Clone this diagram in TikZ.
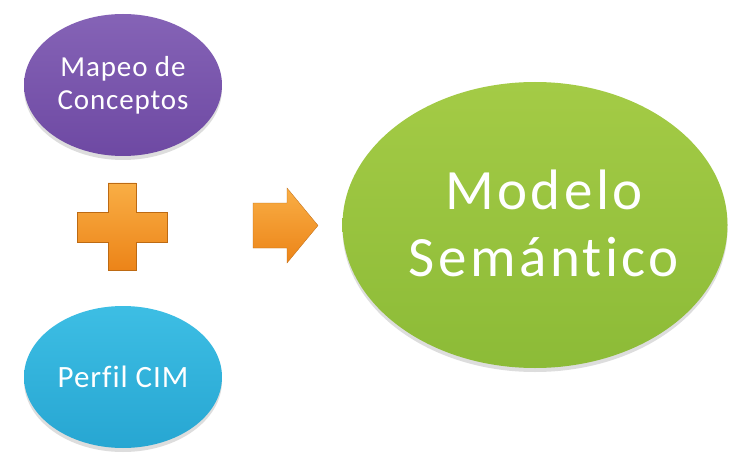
\documentclass[tikz,border=0pt]{standalone}
\usepackage{fontspec}
\setmainfont{Carlito}[Ligatures=NoCommon, LetterSpace=3]
\newfontfamily\bigfont{Carlito}[Ligatures=NoCommon, LetterSpace=6]
\usetikzlibrary{shapes.geometric,shadows}
\definecolor{purpleT}{HTML}{8563B6}
\definecolor{purpleB}{HTML}{6E49A3}
\definecolor{blueT}{HTML}{3DBEE4}
\definecolor{blueB}{HTML}{27A6D2}
\definecolor{greenT}{HTML}{A4CB46}
\definecolor{greenB}{HTML}{8CBB37}
\definecolor{orangeT}{HTML}{F9AE45}
\definecolor{orangeB}{HTML}{EC8418}
\begin{document}
\begin{tikzpicture}[x=1pt,y=-1pt,
  blob/.style={ellipse, inner sep=0pt, text=white, align=center,
    drop shadow={shadow xshift=0pt, shadow yshift=-4pt, opacity=0.22, fill=black!60}},
  smallblob/.style={blob, minimum width=198pt, minimum height=142pt},
  orangeshape/.style={top color=orangeT, bottom color=orangeB, draw=orangeB!80!black, line width=0.3pt}]
\useasboundingbox[fill=white] (0,0) rectangle (741,457);
\node[smallblob, top color=purpleT, bottom color=purpleB,
  font=\fontsize{29}{33}\selectfont] (mapeo) at (123,85) {Mapeo de\\Conceptos};
\node[smallblob, top color=blueT, bottom color=blueB,
  font=\fontsize{31}{36}\selectfont] (perfil) at (123,377) {Perfil CIM};
\node[blob, minimum width=385pt, minimum height=286pt, top color=greenT, bottom color=greenB]
  (modelo) at (535,225) {};
\node[text=white, align=center, inner sep=0pt, font=\bigfont\fontsize{57}{67}\selectfont]
  (modelotext) at ([xshift=9pt,yshift=2pt]modelo.center) {Modelo\\Semántico};
% plus sign
\path[orangeshape] (108,183) -- (136,183) -- (136,212) -- (167,212) -- (167,242)
  -- (136,242) -- (136,270) -- (108,270) -- (108,242) -- (77,242) -- (77,212)
  -- (108,212) -- cycle;
% arrow
\path[orangeshape] (253,203) -- (287,203) -- (287,188) -- (318,225.5) -- (287,263)
  -- (287,248) -- (253,248) -- cycle;
\end{tikzpicture}
\end{document}
